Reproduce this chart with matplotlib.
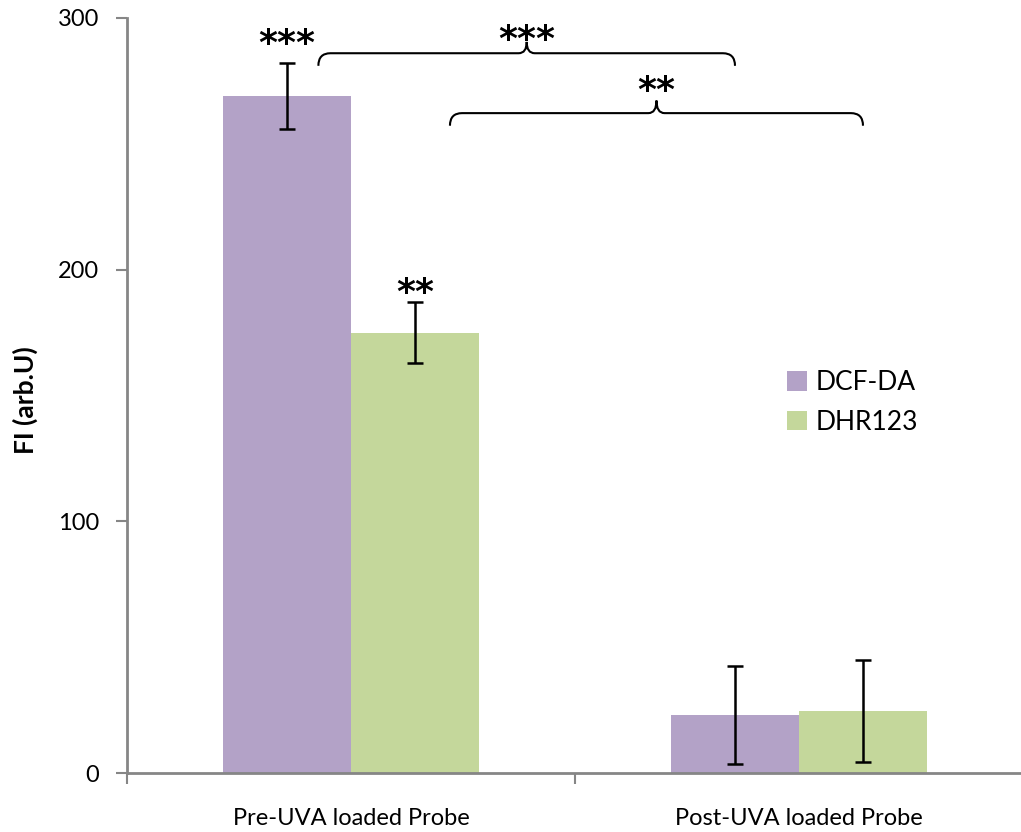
import matplotlib
matplotlib.use("Agg")
import matplotlib.pyplot as plt
from matplotlib.path import Path
from matplotlib.patches import PathPatch
import numpy as np

categories = ["Pre-UVA loaded Probe", "Post-UVA loaded Probe"]
series_names = ["DCF-DA", "DHR123"]
dcf_values = [269, 23]
dcf_errors = [13, 19.5]
dhr_values = [175, 24.6]
dhr_errors = [12, 20.3]
bar_stars = ["***", "**"]
brace_stars = ["***", "**"]
y_ticks = [0, 100, 200, 300]

plt.rcParams['font.family'] = ['Lato', 'DejaVu Sans']

fig = plt.figure(figsize=(10.21, 8.32), dpi=100)
ax = fig.add_axes([127/1021, 59/832, 896/1021, 755/832])

colors = ["#B3A2C7", "#C4D79B"]
w = 0.2857
x = np.arange(len(categories))
xd = x - w/2
xh = x + w/2
err_kw = dict(ecolor="black", elinewidth=1.8, capsize=6, capthick=1.8)
ax.bar(xd, dcf_values, w, color=colors[0], yerr=dcf_errors, error_kw=err_kw,
       label=series_names[0], zorder=2)
ax.bar(xh, dhr_values, w, color=colors[1], yerr=dhr_errors, error_kw=err_kw,
       label=series_names[1], zorder=2)

ax.set_xlim(-0.5, 1.5)
ax.set_ylim(0, 300)
ax.set_yticks(y_ticks)
ax.tick_params(axis='y', labelsize=17, length=8, width=1.5, color="#868686", pad=12)
ax.set_xticks([-0.5, 0.5, 1.5])
ax.set_xticklabels([])
ax.tick_params(axis='x', length=8, width=1.5, color="#868686")
for i, c in enumerate(categories):
    ax.text(x[i], -0.0689, c, transform=ax.get_xaxis_transform(), ha='center',
            va='baseline', fontsize=17)
for s in ['top', 'right']:
    ax.spines[s].set_visible(False)
for s in ['left', 'bottom']:
    ax.spines[s].set_color("#868686")
    ax.spines[s].set_linewidth(2)
ax.set_ylabel("FI (arb.U)", fontsize=19, fontweight='bold')
ax.yaxis.set_label_coords((38 - 127) / 896, (773 - 400) / 755)

star_kw = dict(ha='center', va='baseline', fontsize=26, fontweight='bold',
               family='DejaVu Sans')
# stars above bars
ax.text(xd[0], 285.7, bar_stars[0], **star_kw)
ax.text(xh[0], 186.8, bar_stars[1], **star_kw)


def brace(ax, x0, x1, y, h, tip):
    xm = (x0 + x1) / 2
    r = 0.027
    c = 0.018
    verts = [(x0, y - h), (x0, y), (x0 + r, y),
             (xm - c, y), (xm, y), (xm, y + tip),
             (xm, y), (xm + c, y),
             (x1 - r, y), (x1, y), (x1, y - h)]
    codes = [Path.MOVETO, Path.CURVE3, Path.CURVE3,
             Path.LINETO, Path.CURVE3, Path.CURVE3,
             Path.CURVE3, Path.CURVE3,
             Path.LINETO, Path.CURVE3, Path.CURVE3]
    ax.add_patch(PathPatch(Path(verts, codes), fill=False, lw=1.5,
                           color="black", clip_on=False))
    return xm

m1 = brace(ax, xd[0] + 0.07, xd[1], 286, 5, 4.5)
ax.text(m1, 287.3, brace_stars[0], **star_kw)
m2 = brace(ax, xh[0] + 0.078, xh[1], 262.2, 5, 5)
ax.text(m2, 267.0, brace_stars[1], **star_kw)

ax.legend(loc='upper left', bbox_to_anchor=(0.71, 0.565), frameon=False,
          fontsize=19, handlelength=0.75, handleheight=0.75, handletextpad=0.35,
          labelspacing=0.55)

fig.savefig("out.png", dpi=100)
